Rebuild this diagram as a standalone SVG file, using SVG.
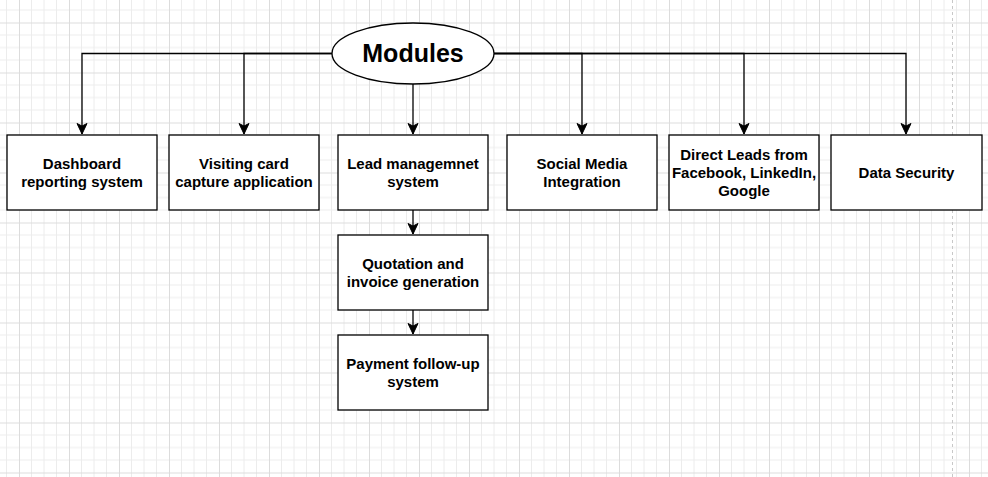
<svg xmlns="http://www.w3.org/2000/svg" width="988" height="477" viewBox="0 0 988 477">
<defs>
<pattern id="grid" patternUnits="userSpaceOnUse" x="19" y="22.5" width="50" height="50">
<path d="M12.5 0V50M25 0V50M37.5 0V50M0 12.5H50M0 25H50M0 37.5H50" stroke="#ececec" stroke-width="1" fill="none"/>
<path d="M0.5 0V50M0 0.5H50" stroke="#dcdcdc" stroke-width="1" fill="none"/>
</pattern>
<marker id="arr" markerWidth="14" markerHeight="14" viewBox="0 0 14 14" refX="12" refY="7" orient="auto" markerUnits="userSpaceOnUse">
<path d="M1.5 2L12 7L1.5 12L4 7Z" fill="#000" stroke="#000" stroke-width="1"/>
</marker>
</defs>
<style>
.box{fill:#fff;stroke:#000;stroke-width:1.3}
.t{font-family:"Liberation Sans",Arial,Helvetica,sans-serif;font-weight:bold;font-size:15px;text-anchor:middle;fill:#000}
.c{fill:none;stroke:#000;stroke-width:1.3;marker-end:url(#arr)}
</style>
<rect width="988" height="477" fill="#fff"/>
<rect width="988" height="477" fill="url(#grid)"/>
<line x1="952.5" y1="0" x2="952.5" y2="477" stroke="#c8c8c8" stroke-width="1" stroke-dasharray="3 3"/>
<g id="connectors">
<path class="c" d="M332 53.5H82V134"/>
<path class="c" d="M332 53.5H244V134"/>
<path class="c" d="M413 84V134"/>
<path class="c" d="M494 53.5H582V134"/>
<path class="c" d="M494 53.5H744V134"/>
<path class="c" d="M494 53.5H906V134"/>
<path class="c" d="M413 210V234"/>
<path class="c" d="M413 310V334"/>
</g>
<g id="modules">
<ellipse cx="413" cy="53.5" rx="81" ry="30.5" class="box"/>
<text x="413" y="62" class="t" style="font-size:25px">Modules</text>
</g>
<g id="dashboard">
<rect x="7" y="135" width="150" height="75" class="box"/>
<text x="82" y="169" class="t">Dashboard</text>
<text x="82" y="187" class="t">reporting system</text>
</g>
<g id="visiting">
<rect x="169" y="135" width="150" height="75" class="box"/>
<text x="244" y="169" class="t">Visiting card</text>
<text x="244" y="187" class="t">capture application</text>
</g>
<g id="lead">
<rect x="338" y="135" width="150" height="75" class="box"/>
<text x="413" y="169" class="t">Lead managemnet</text>
<text x="413" y="187" class="t">system</text>
</g>
<g id="social">
<rect x="507" y="135" width="150" height="75" class="box"/>
<text x="582" y="169" class="t">Social Media</text>
<text x="582" y="187" class="t">Integration</text>
</g>
<g id="direct">
<rect x="669" y="135" width="150" height="75" class="box"/>
<text x="744" y="160" class="t">Direct Leads from</text>
<text x="744" y="178" class="t">Facebook, LinkedIn,</text>
<text x="744" y="196" class="t">Google</text>
</g>
<g id="security">
<rect x="831" y="135" width="151" height="75" class="box"/>
<text x="906.5" y="178" class="t">Data Security</text>
</g>
<g id="quotation">
<rect x="338" y="235" width="150" height="75" class="box"/>
<text x="413" y="269" class="t">Quotation and</text>
<text x="413" y="287" class="t">invoice generation</text>
</g>
<g id="payment">
<rect x="338" y="335" width="150" height="75" class="box"/>
<text x="413" y="369" class="t">Payment follow-up</text>
<text x="413" y="387" class="t">system</text>
</g>
</svg>
